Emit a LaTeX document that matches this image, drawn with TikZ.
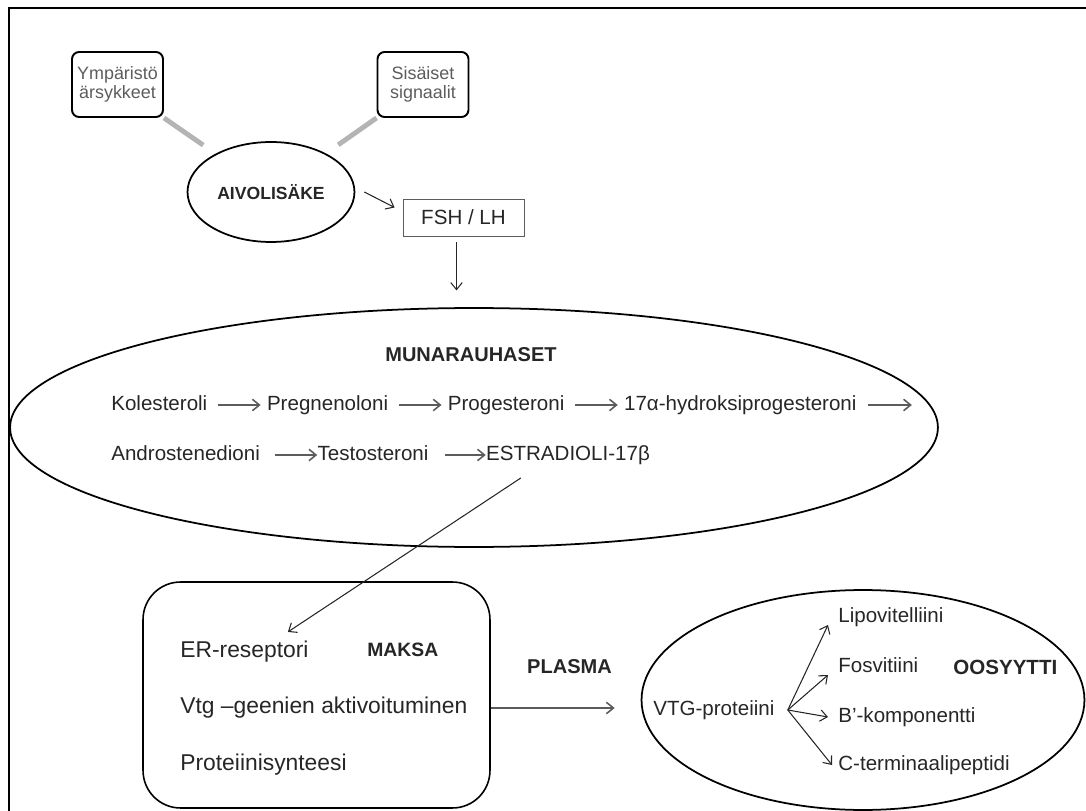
\documentclass[tikz,border=0pt]{standalone}
\usepackage{fontspec}
\setmainfont{Liberation Sans}
\usetikzlibrary{positioning,arrows.meta,calc,shapes.geometric}
\definecolor{figink}{HTML}{262626}
\definecolor{figsoft}{HTML}{5C5C5C}
\definecolor{figgray}{HTML}{B4B4B4}

\begin{document}
\begin{tikzpicture}[
    x=0.02cm, y=-0.02cm,
    >={Straight Barb[length=4pt,width=6.5pt]},
    stimbox/.style={draw=black, line width=1.1pt, rounded corners=4pt, align=center,
        minimum width=1.82cm, minimum height=1.3cm, inner sep=1pt, text=figsoft,
        font=\fontsize{10.2}{10.4}\selectfont},
    gland/.style={draw=black, ellipse, line width=1pt, inner sep=0pt, text=figink},
    hormbox/.style={draw=figsoft, line width=0.5pt, minimum width=2.42cm,
        minimum height=0.74cm, text=figink, font=\fontsize{11.7}{14}\selectfont},
    steroid/.style={anchor=west, inner sep=0pt, text height=8.5pt, text depth=2.5pt,
        text=figink, font=\fontsize{11.7}{14}\selectfont},
    liverline/.style={anchor=west, inner sep=0pt, text height=9.4pt, text depth=2.8pt,
        text=figink, font=\fontsize{13}{15}\selectfont},
    organname/.style={inner sep=0pt, text=figink, font=\fontsize{11.4}{14}\selectfont\bfseries},
    flow/.style={->, line width=0.6pt, draw=figink},
    conv/.style={->, line width=0.9pt, draw=figsoft},
    feed/.style={line width=2.8pt, draw=figgray}
]
\useasboundingbox (0,0) rectangle (1086,811);
% page frame, open to the right and bottom
\draw[line width=1.2pt] (9,815) -- (9,8) -- (1090,8);

% stimuli and pituitary
\node[stimbox] (envstim) at (117.5,84.5) {Ympäristö\\ärsykkeet};
\node[stimbox] (intsig) at (423,84.5) {Sisäiset\\signaalit};
\node[gland, minimum width=3.34cm, minimum height=2cm,
      font=\fontsize{10}{12}\selectfont\bfseries] (pituitary) at (271,192) {AIVOLISÄKE};
\node[hormbox] (fshlh) at (463.5,217.5) {FSH / LH};

\draw[feed, shorten >=0.3cm] (envstim.south east) -- (pituitary);
\draw[feed, shorten >=0.3cm] (intsig.south west) -- (pituitary);
\draw[flow] ([xshift=0.18cm]pituitary.east) -- ([xshift=-0.16cm,yshift=0.2cm]fshlh.west);
\coordinate (fshtip) at ($(fshlh.south)+(-7,54)$);
\draw[flow] ($(fshlh.south)+(-7,6)$) -- (fshtip);

% ovary with steroid chain
\node[gland, minimum width=18.56cm, minimum height=4.78cm] (ovary) at (474,427.5) {};
\node[organname] (ovaryname) at (471,355) {MUNARAUHASET};

\node[steroid] (chol) at (111,405) {Kolesteroli};
\node[steroid, right=1.18cm of chol] (pregn) {Pregnenoloni};
\node[steroid, right=1.18cm of pregn] (prog) {Progesteroni};
\node[steroid, right=1.18cm of prog] (ohprog) {17α-hydroksiprogesteroni};
\coordinate[right=1.1cm of ohprog] (rowend);
\node[steroid] (andro) at (111,455) {Androstenedioni};
\node[steroid, right=1.14cm of andro] (testo) {Testosteroni};
\node[steroid, right=1.14cm of testo] (estra) {ESTRADIOLI-17β};

\draw[conv, shorten <=0.2cm, shorten >=0.12cm] (chol) -- (pregn);
\draw[conv, shorten <=0.2cm, shorten >=0.12cm] (pregn) -- (prog);
\draw[conv, shorten <=0.2cm, shorten >=0.12cm] (prog) -- (ohprog);
\draw[conv, shorten <=0.22cm] (ohprog) -- (rowend);
\draw[conv, shorten <=0.3cm] (andro) -- (testo);
\draw[conv, shorten <=0.32cm] (testo) -- (estra);

% liver
\node[draw=black, line width=0.9pt, rounded corners=0.75cm, minimum width=6.94cm,
      minimum height=4.52cm] (liver) at (316.5,695) {};
\node[liverline] (erec) at (180,652) {ER-reseptori};
\node[organname, anchor=west, font=\fontsize{11}{13}\selectfont\bfseries] (livername) at (367,650) {MAKSA};
\node[liverline] (vtggenes) at (180,708) {Vtg –geenien aktivoituminen};
\node[liverline] (protsyn) at (180,765) {Proteiinisynteesi};

\draw[flow] ($(estra.south west)+(35,13)$) -- ($(erec.north east)+(-21,-9)$);

% oocyte
\node[gland, minimum width=8.86cm, minimum height=4.4cm] (oocyte) at (863,700) {};
\node[organname] (plasma) at (569.5,667) {PLASMA};
\draw[conv, shorten >=0.52cm] (liver.east |- vtggenes) -- (oocyte.west |- vtggenes);

\node[steroid] (vtgprot) at (653,710) {VTG-proteiini};
\coordinate (split) at ([xshift=0.26cm]vtgprot.east);
\node[steroid] (lipo) at (838,617) {Lipovitelliini};
\node[steroid] (fosv) at (838,667) {Fosvitiini};
\node[organname, anchor=west, font=\fontsize{11.7}{14}\selectfont\bfseries] (oocytename) at (953,667) {OOSYYTTI};
\node[steroid] (bkomp) at (838,717) {B’-komponentti};
\node[steroid] (cterm) at (838,765) {C-terminaalipeptidi};

\draw[flow] (split) -- ([xshift=-0.2cm,yshift=-0.16cm]lipo.west);
\draw[flow] (split) -- ([xshift=-0.2cm,yshift=-0.16cm]fosv.west);
\draw[flow] (split) -- ([xshift=-0.2cm]bkomp.west);
\draw[flow] (split) -- ([xshift=-0.12cm]cterm.west);
\end{tikzpicture}
\end{document}
